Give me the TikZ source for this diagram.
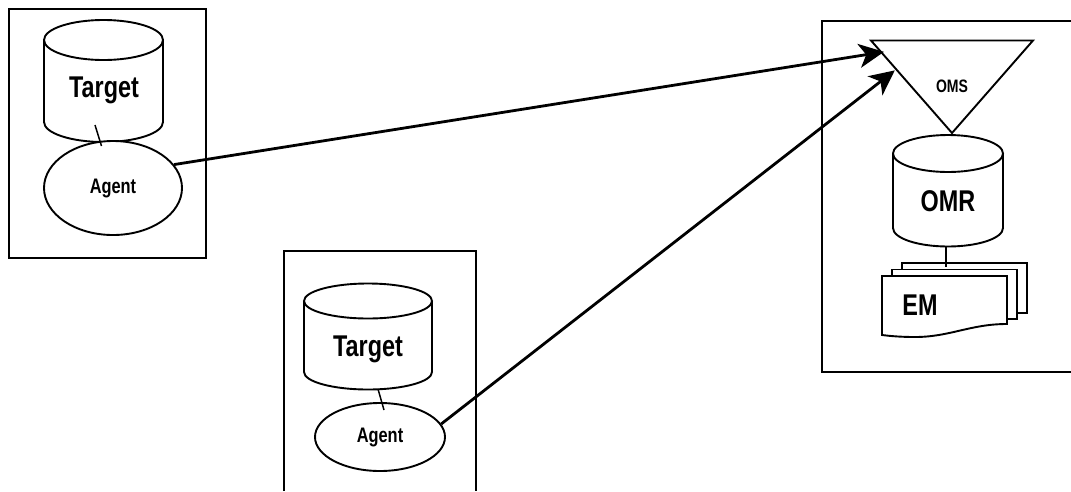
\documentclass[tikz,border=0pt]{standalone}
\usepackage{fontspec}
\setmainfont[FakeStretch=0.78]{Liberation Sans Bold}
\usetikzlibrary{arrows.meta,shapes.geometric}
\tikzset{
  x=1pt,y=-1pt,
  box/.style={line width=2pt,line join=miter},
  shp/.style={line width=1.9pt,fill=white},
  agentnode/.style={ellipse,draw,line width=1.9pt,fill=white,inner sep=0pt,font=\fontsize{21}{24}\selectfont},
  biglabel/.style={inner sep=0pt,font=\fontsize{30}{32}\selectfont},
  link/.style={line width=1.5pt},
  feed/.style={line width=2.8pt,-{Stealth[length=25pt,width=24pt,inset=7pt]},shorten >=-1pt}
}
\newcommand{\cyl}[5]{% xl xr ytopcenter ry ysidebottom
  \draw[shp] (#1,#3) -- (#1,#5) arc[start angle=180,end angle=0,x radius={(#2-#1)/2},y radius=#4] -- (#2,#3);
  \draw[shp] ({(#1+#2)/2},#3) ellipse[x radius={(#2-#1)/2},y radius=#4];
}
\begin{document}
\begin{tikzpicture}
\useasboundingbox (0,0) rectangle (1071,491);
\fill[white] (0,0) rectangle (1071,491);
% containers
\draw[box] (9,9) rectangle (206,258);
\draw[box] (284,491) -- (284,250.5) -- (476,250.5) -- (476,491);
\draw[box] (1071,20.5) -- (822,20.5) -- (822,372) -- (1071,372);
% left group
\cyl{44}{163}{40}{20}{122}
\node[agentnode,minimum width=138pt,minimum height=94pt] (agentA) at (113,188) {Agent};
\node[biglabel] (targetA) at (104,90) {Target};
\coordinate (linkAs) at (95,125);
\coordinate (linkAe) at (101.5,146);
\draw[link] (linkAs) -- (linkAe);
% middle group
\cyl{304}{432}{301}{17.5}{372}
\node[agentnode,minimum width=130pt,minimum height=68pt] (agentB) at (380,437) {Agent};
\node[biglabel] (targetB) at (368,349) {Target};
\coordinate (linkBs) at (378,389);
\coordinate (linkBe) at (384,410);
\draw[link] (linkBs) -- (linkBe);
% right group
\draw[shp,line join=miter] (871,40.5) -- (1033,40.5) -- (952,133) -- cycle;
\node[inner sep=0pt,font=\fontsize{18}{20}\selectfont] (oms) at (952,86) {OMS};
\cyl{893}{1003}{153.5}{18.5}{228}
\node[biglabel] (omr) at (948,201) {OMR};
\coordinate (linkCs) at (946,247);
\coordinate (linkCe) at (946,267);
\draw[shp] (902,263) rectangle (1027,313);
\draw[shp] (892,269.5) rectangle (1017,319);
\draw[link] (linkCs) -- (linkCe);
\draw[shp] (882,276) -- (1007,276) -- (1007,324) .. controls (970,324) and (950,337) .. (915,337) .. controls (900,337) and (890,336) .. (882,335) -- cycle;
\node[biglabel] (em) at (920,305) {EM};
% feeds
\coordinate (omsA) at (883,52);
\coordinate (omsB) at (894,71);
\draw[feed] (agentA.21) -- (omsA);
\draw[feed] (agentB.12) -- (omsB);
\end{tikzpicture}
\end{document}
